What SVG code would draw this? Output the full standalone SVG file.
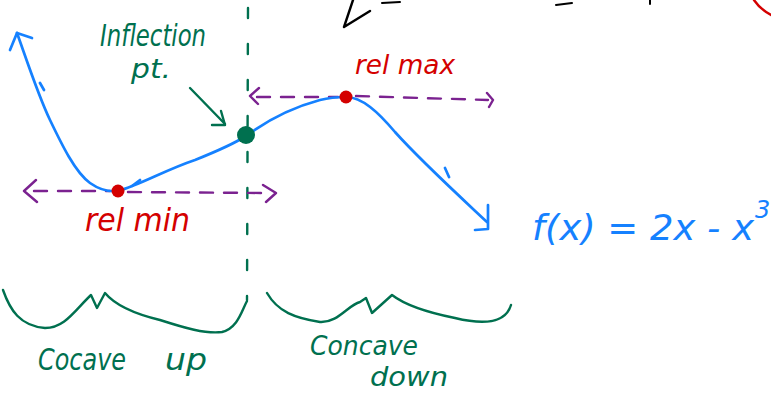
<svg xmlns="http://www.w3.org/2000/svg" width="771" height="393" viewBox="0 0 771 393">
<style>
.blue{fill:none;stroke:#1581ff;stroke-width:2.7;stroke-linecap:round;stroke-linejoin:round}
.purple{fill:none;stroke:#7b2290;stroke-width:2.4;stroke-linecap:round;stroke-linejoin:round}
.pdash{stroke-dasharray:13 11}
.green{fill:none;stroke:#00704f;stroke-width:2.4;stroke-linecap:round;stroke-linejoin:round}
.hand{font-family:"DejaVu Sans","Liberation Sans",sans-serif;font-style:oblique}
.tg{fill:#00704f}
.tr{fill:#d40000}
.tb{fill:#1581ff}
</style>
<rect width="771" height="393" fill="#ffffff"/>
<g id="top-fragments">
<path d="M353,0 L344,27 L370,11" fill="none" stroke="#000" stroke-width="2.4" stroke-linecap="round" stroke-linejoin="round"/>
<path d="M382,3 L400,2 M556,5 L572,3 M650,0 L650,4" fill="none" stroke="#000" stroke-width="2" stroke-linecap="round"/>
<path d="M754,0 Q760,9 771,15" fill="none" stroke="#d40000" stroke-width="2.5" stroke-linecap="round"/>
</g>
<g id="divider">
<line x1="248" y1="8" x2="247" y2="300" class="green" stroke-dasharray="10 26" stroke-width="2"/>
</g>
<g id="tangent-lines">
<path class="purple pdash" d="M34,191 L110,191 M128,192 L265,193"/>
<path class="purple" d="M36,180 L24,191 L37,202 M263,185 L276,193 L266,202"/>
<path class="purple pdash" d="M257,97 L338,97 M356,96 L488,100"/>
<path class="purple" d="M259,88 L250,96 L258,104 M487,93 L493,100 L489,107"/>
</g>
<g id="function-curve">
<path class="blue" d="M17,33 C25,55 38,95 50,120 C62,145 75,172 90,183 C100,190 110,192 118,191 C140,185 165,170 195,160 C215,152 232,145 246,136 C265,122 290,108 320,100 C332,97 340,97 346,97 C362,97 378,112 395,132 C420,160 455,192 487,222"/>
<path class="blue" d="M10,50 L17,33 L32,38"/>
<path class="blue" d="M488,205 L488,229 L475,230"/>
<path class="blue" stroke-width="1.8" d="M40,83 L44,90 M140,180 L132,186 M445,168 L449,177"/>
</g>
<g id="inflection-point">
<circle cx="246" cy="135" r="9" fill="#00704f"/>
<path class="green" d="M190,88 L225,124"/>
<path class="green" d="M212,125 L225,125 L221,111"/>
<text x="100" y="46" class="hand tg" font-size="30" textLength="106" lengthAdjust="spacingAndGlyphs">Inflection</text>
<text x="131" y="78" class="hand tg" font-size="27" textLength="40" lengthAdjust="spacingAndGlyphs">pt.</text>
</g>
<g id="rel-min">
<circle cx="118" cy="191" r="6.5" fill="#d40000"/>
<text x="85" y="231" class="hand tr" font-size="32" textLength="105" lengthAdjust="spacingAndGlyphs">rel min</text>
</g>
<g id="rel-max">
<circle cx="346" cy="97" r="6.5" fill="#d40000"/>
<text x="355" y="74" class="hand tr" font-size="27" textLength="100" lengthAdjust="spacingAndGlyphs">rel max</text>
</g>
<g id="equation">
<text x="532" y="240" class="hand tb" font-size="36" textLength="222" lengthAdjust="spacingAndGlyphs">f(x) = 2x - x</text>
<text x="755" y="218" class="hand tb" font-size="24">3</text>
</g>
<g id="concave-up">
<path class="green" d="M3,290 C10,310 20,326 45,328 C65,328 75,310 91,295 L97,308 L105,293 C115,305 135,314 160,320 C185,328 205,334 222,332 C238,328 242,310 247,301"/>
<text x="38" y="370" class="hand tg" font-size="30" textLength="88" lengthAdjust="spacingAndGlyphs">Cocave</text>
<text x="165" y="370" class="hand tg" font-size="30" textLength="42" lengthAdjust="spacingAndGlyphs">up</text>
</g>
<g id="concave-down">
<path class="green" d="M267,293 C278,312 295,318 320,322 C338,323 348,305 360,302 L366,298 L372,313 L392,295 C405,305 430,313 455,318 C480,324 505,325 511,305"/>
<text x="310" y="355" class="hand tg" font-size="26" textLength="108" lengthAdjust="spacingAndGlyphs">Concave</text>
<text x="370" y="386" class="hand tg" font-size="26" textLength="78" lengthAdjust="spacingAndGlyphs">down</text>
</g>
</svg>
